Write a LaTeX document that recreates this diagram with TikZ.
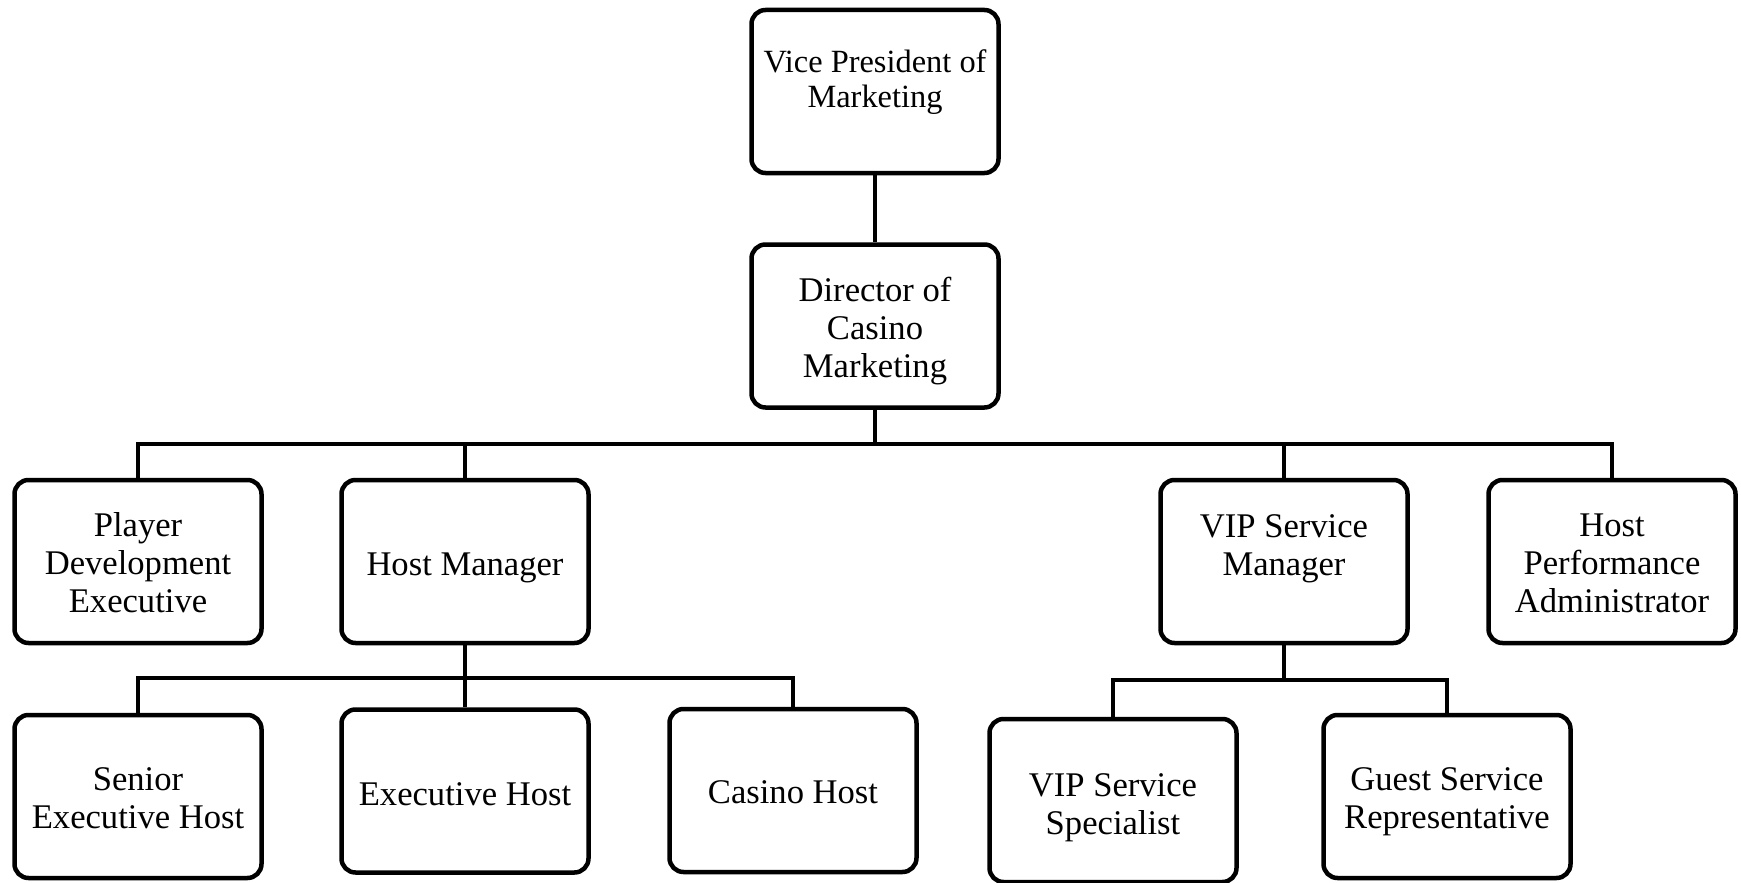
\documentclass[tikz,border=0pt]{standalone}
\usepackage{fontspec}
\setmainfont{Liberation Serif}
\begin{document}
\begin{tikzpicture}[x=1pt,y=-1pt,
  box/.style={draw, line width=4.5pt, rounded corners=14pt, minimum width=247pt,
    minimum height=163pt, align=center, inner sep=2pt, text depth=8pt,
    font=\fontsize{34.6}{37.8}\selectfont},
  link/.style={line width=4pt}]
\useasboundingbox (0,0) rectangle (1741,883);
% level 0/1
\node[box, font=\fontsize{32.4}{34.5}\selectfont, text height=39pt] (vp) at (875,91.5) {Vice President of\\Marketing};
\node[box, text height=110pt] (dir) at (875,326) {Director of\\Casino\\Marketing};
% level 2
\node[box, text height=109pt] (pde) at (138,561.5) {Player\\Development\\Executive};
\node[box, text height=35pt] (hm) at (465,561.5) {Host Manager};
\node[box, text height=35pt] (vsm) at (1284,561.5) {VIP Service\\Manager};
\node[box, text height=109pt] (hpa) at (1612,561.5) {Host\\Performance\\Administrator};
% level 3
\node[box, text height=71pt] (seh) at (138,796.5) {Senior\\Executive Host};
\node[box, text height=36pt] (eh) at (465,791) {Executive Host};
\node[box, text height=34pt] (ch) at (793,790.5) {Casino Host};
\node[box, text height=75pt] (vss) at (1113,800.5) {VIP Service\\Specialist};
\node[box, text height=72pt] (gsr) at (1447,796.5) {Guest Service\\Representative};
% connectors
\coordinate (bus) at (875,444);
\coordinate (hbus) at (465,678);
\coordinate (vbus) at (1284,680);
\draw[link] (vp.south) -- (dir.north);
\draw[link] (dir.south) -- (bus);
\draw[link] (bus) -| (pde.north);
\draw[link] (bus) -| (hm.north);
\draw[link] (bus) -| (vsm.north);
\draw[link] (bus) -| (hpa.north);
\draw[link] (hm.south) -- (hbus);
\draw[link] (hbus) -| (seh.north);
\draw[link] (hbus) -- (eh.north);
\draw[link] (hbus) -| (ch.north);
\draw[link] (vsm.south) -- (vbus);
\draw[link] (vbus) -| (vss.north);
\draw[link] (vbus) -| (gsr.north);
\end{tikzpicture}
\end{document}
